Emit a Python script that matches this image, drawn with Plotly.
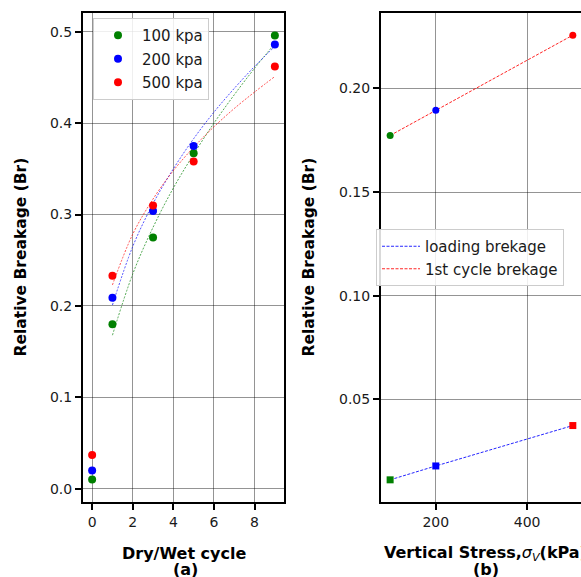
import plotly.graph_objects as go

W, H = 581, 577

# ---------------- data ----------------
cycles = [0, 1, 3, 5, 9]
br_100 = [0.010, 0.180, 0.275, 0.367, 0.496]
br_200 = [0.020, 0.209, 0.304, 0.375, 0.486]
br_500 = [0.037, 0.233, 0.310, 0.358, 0.462]

# trend curves as drawn in the picture (x = 1..9)
fit_x = [1, 2, 3, 4, 5, 6, 7, 8, 9]
fit_100 = [0.168, 0.235, 0.286, 0.329, 0.366, 0.400, 0.431, 0.460, 0.487]
fit_200 = [0.201, 0.265, 0.312, 0.350, 0.383, 0.412, 0.438, 0.462, 0.484]
fit_500 = [0.223, 0.2785, 0.317, 0.348, 0.3736, 0.396, 0.416, 0.434, 0.451]

stress = [100, 200, 500]
loading_br = [0.0111, 0.0178, 0.0373]
first_cycle_br = [0.1773, 0.1895, 0.2257]
point_colors = ["green", "blue", "red"]

series_labels = ["100 kpa", "200 kpa", "500 kpa"]

FONT = "DejaVu Sans"
TXT = "#1a1a1a"


def px(x):
    return x / W


def py(y):
    return 1 - y / H


fig = go.Figure()

# ---------------- left panel ----------------
for lab, fit, col in zip(series_labels, [fit_100, fit_200, fit_500], point_colors):
    fig.add_trace(go.Scatter(
        x=fit_x, y=fit, mode="lines", line=dict(color=col, width=0.9, dash="2px,1.5px", shape="spline"),
        opacity=0.75, showlegend=False, xaxis="x", yaxis="y", hoverinfo="skip"))
for lab, vals, col in zip(series_labels, [br_100, br_200, br_500], point_colors):
    fig.add_trace(go.Scatter(
        x=cycles, y=vals, mode="markers", name=lab, legendgroup=lab,
        marker=dict(color=col, size=8, line=dict(width=0)),
        xaxis="x", yaxis="y", legend="legend"))

# ---------------- right panel ----------------
fig.add_trace(go.Scatter(
    x=stress, y=loading_br, mode="lines", name="loading brekage",
    line=dict(color="blue", width=1, dash="3px,1.5px"), opacity=0.85,
    xaxis="x2", yaxis="y2", legend="legend2"))
fig.add_trace(go.Scatter(
    x=stress, y=first_cycle_br, mode="lines", name="1st cycle brekage",
    line=dict(color="red", width=1, dash="3px,1.5px"), opacity=0.85,
    xaxis="x2", yaxis="y2", legend="legend2"))
fig.add_trace(go.Scatter(
    x=stress, y=loading_br, mode="markers", showlegend=False,
    marker=dict(color=point_colors, size=7, symbol="square", line=dict(width=0)),
    xaxis="x2", yaxis="y2"))
fig.add_trace(go.Scatter(
    x=stress, y=first_cycle_br, mode="markers", showlegend=False,
    marker=dict(color=point_colors, size=7, line=dict(width=0)),
    xaxis="x2", yaxis="y2"))

grid = "rgba(0,0,0,0.42)"
tickfont = dict(family=FONT, size=14, color=TXT)
common = dict(showgrid=True, gridcolor=grid, gridwidth=1, zeroline=False,
              showline=True, linecolor="black", linewidth=2,
              ticks="outside", ticklen=6, tickwidth=1.5, tickcolor="black",
              tickfont=tickfont)

yd = [py(502), py(13)]

fig.update_layout(
    width=W, height=H,
    margin=dict(l=0, r=0, t=0, b=0),
    paper_bgcolor="white", plot_bgcolor="white",
    font=dict(family=FONT, color=TXT),
    xaxis=dict(domain=[px(83), px(284)], range=[-0.45, 9.45],
               tickvals=[0, 2, 4, 6, 8], mirror=True, anchor="y", **common),
    yaxis=dict(domain=yd, range=[-0.0145, 0.5205],
               tickvals=[0.0, 0.1, 0.2, 0.3, 0.4, 0.5], ticktext=["0.0", "0.1", "0.2", "0.3", "0.4", "0.5"],
               mirror=True, anchor="x", **common),
    xaxis2=dict(domain=[px(381), 1.0], range=[80, 517.9],
                tickvals=[200, 400], mirror=True, anchor="y2", **common),
    yaxis2=dict(domain=yd, range=[0.0004, 0.2364],
                tickvals=[0.05, 0.10, 0.15, 0.20], ticktext=["0.05", "0.10", "0.15", "0.20"],
                mirror=False, anchor="x2", **common),
    legend=dict(x=px(93), y=py(18), xanchor="left", yanchor="top",
                bgcolor="rgba(255,255,255,0.85)", bordercolor="#cccccc", borderwidth=1,
                font=dict(family=FONT, size=15, color=TXT), itemwidth=38,
                traceorder="grouped", tracegroupgap=1),
    legend2=dict(x=px(376), y=py(229), xanchor="left", yanchor="top",
                 bgcolor="rgba(255,255,255,0.85)", bordercolor="#cccccc", borderwidth=1,
                 font=dict(family=FONT, size=15, color=TXT), itemwidth=38),
    showlegend=True,
)

ann = [
    dict(x=px(183.5), y=py(553), text="<b>Dry/Wet cycle</b>", size=16),
    dict(x=px(185), y=py(569), text="<b>(a)</b>", size=16),
    dict(x=px(485), y=py(553), text="<b>Vertical Stress,</b><i>σ<sub>V</sub></i><b>(kPa)</b>", size=16),
    dict(x=px(486), y=py(569), text="<b>(b)</b>", size=16),
]
for a in ann:
    fig.add_annotation(x=a["x"], y=a["y"], xref="paper", yref="paper", text=a["text"],
                       showarrow=False, xanchor="center", yanchor="middle",
                       font=dict(family=FONT, size=a["size"], color="black"))
for xc in [20, 308]:
    fig.add_annotation(x=px(xc), y=py(257.5), xref="paper", yref="paper",
                       text="<b>Relative Breakage (Br)</b>", textangle=-90,
                       showarrow=False, xanchor="center", yanchor="middle",
                       font=dict(family=FONT, size=15.5, color="black"))

fig.write_html("out.html", config={"displayModeBar": False},
               post_script="document.body.style.margin='0';document.body.style.overflow='hidden';")
